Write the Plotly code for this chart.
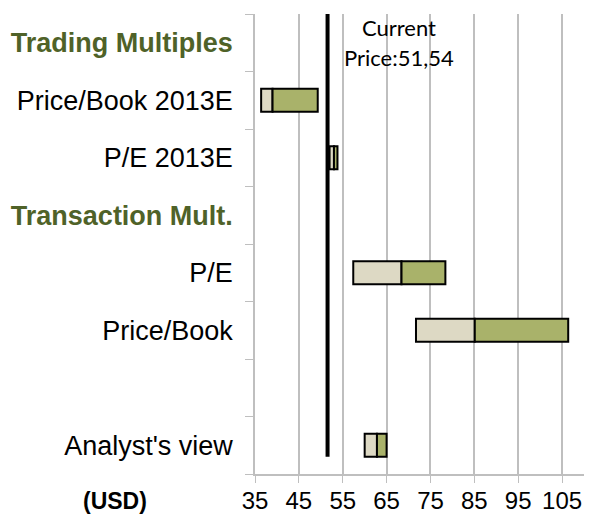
import numpy as np
import plotly.graph_objects as go

# ---- data ----
categories = ["<b><span style='color:#4F6228'>Trading Multiples</span></b>",
              "Price/Book 2013E", "P/E 2013E",
              "<b><span style='color:#4F6228'>Transaction Mult.</span></b>",
              "P/E", "Price/Book", "", "Analyst's view"]
low_vals = [None, 36.4, 52.0, None, 57.4, 71.7, None, 60.0]
mid_vals = [None, 39.0, 53.0, None, 68.4, 85.1, None, 62.8]
high_vals = [None, 49.3, 53.8, None, 78.4, 106.4, None, 65.0]
current_price = 51.54
price_label_lines = ["Current", "Price:51,54"]
x_ticks = [35, 45, 55, 65, 75, 85, 95, 105]

low = np.array([np.nan if v is None else v for v in low_vals])
mid = np.array([np.nan if v is None else v for v in mid_vals])
high = np.array([np.nan if v is None else v for v in high_vals])
ypos = np.arange(len(categories))

fig = go.Figure()
fig.add_trace(go.Bar(y=ypos, x=mid - low, base=low, orientation="h", width=0.4,
                     marker=dict(color="#DDD9C4", line=dict(color="black", width=2)),
                     showlegend=False, hoverinfo="skip"))
fig.add_trace(go.Bar(y=ypos, x=high - mid, base=mid, orientation="h", width=0.4,
                     marker=dict(color="#A9B26A", line=dict(color="black", width=2)),
                     showlegend=False, hoverinfo="skip"))
fig.add_trace(go.Scatter(x=[current_price, current_price], y=[-0.5, 7.2], mode="lines",
                         line=dict(color="black", width=4), showlegend=False, hoverinfo="skip"))

grey = "#BFBFBF"
label_font = dict(family="Lato, Carlito, sans-serif", size=22, color="black")
fig.update_layout(
    width=599, height=515,
    margin=dict(l=255, r=15, t=14, b=41),
    paper_bgcolor="white", plot_bgcolor="white",
    barmode="overlay",
    font=dict(family="Liberation Sans, Arial, sans-serif", color="black"),
    xaxis=dict(range=[35, 110], tickvals=x_ticks, showgrid=True, gridcolor=grey, gridwidth=1.5,
               showline=True, linecolor=grey, linewidth=1.5, ticks="outside", ticklen=7,
               tickcolor=grey, tickfont=dict(size=24, color="black"), zeroline=False,
               automargin=False, ticklabelstandoff=-3),
    yaxis=dict(range=[7.5, -0.5], tickvals=list(ypos), ticktext=categories, ticks="",
               showgrid=False, zeroline=False, showline=True, linecolor=grey, linewidth=1.5,
               tickfont=dict(size=27, color="black"), ticklabelstandoff=15, automargin=False,
               minor=dict(tickvals=list(np.arange(-0.5, 8, 1.0)), ticks="outside", ticklen=8,
                          tickcolor=grey, showgrid=False)),
    shapes=[dict(type="rect", xref="paper", yref="paper", x0=0.24, x1=1.0, y0=0.8696, y1=1.0,
                 fillcolor="white", line=dict(width=0), layer="between")],
    annotations=[
        dict(text=price_label_lines[0], xref="paper", yref="paper", x=0.4377, y=0.9717,
             yanchor="middle", showarrow=False, font=label_font),
        dict(text=price_label_lines[1], xref="paper", yref="paper", x=0.4377, y=0.9065,
             yanchor="middle", showarrow=False, font=label_font),
        dict(text="<b>(USD)</b>", xref="paper", yref="paper", x=-0.4255, y=-0.059, yanchor="middle",
             xanchor="center", showarrow=False, font=dict(size=23, color="black")),
    ],
)
fig.write_html("out.html", config={"displayModeBar": False},
               post_script="document.body.style.margin='0px';")
